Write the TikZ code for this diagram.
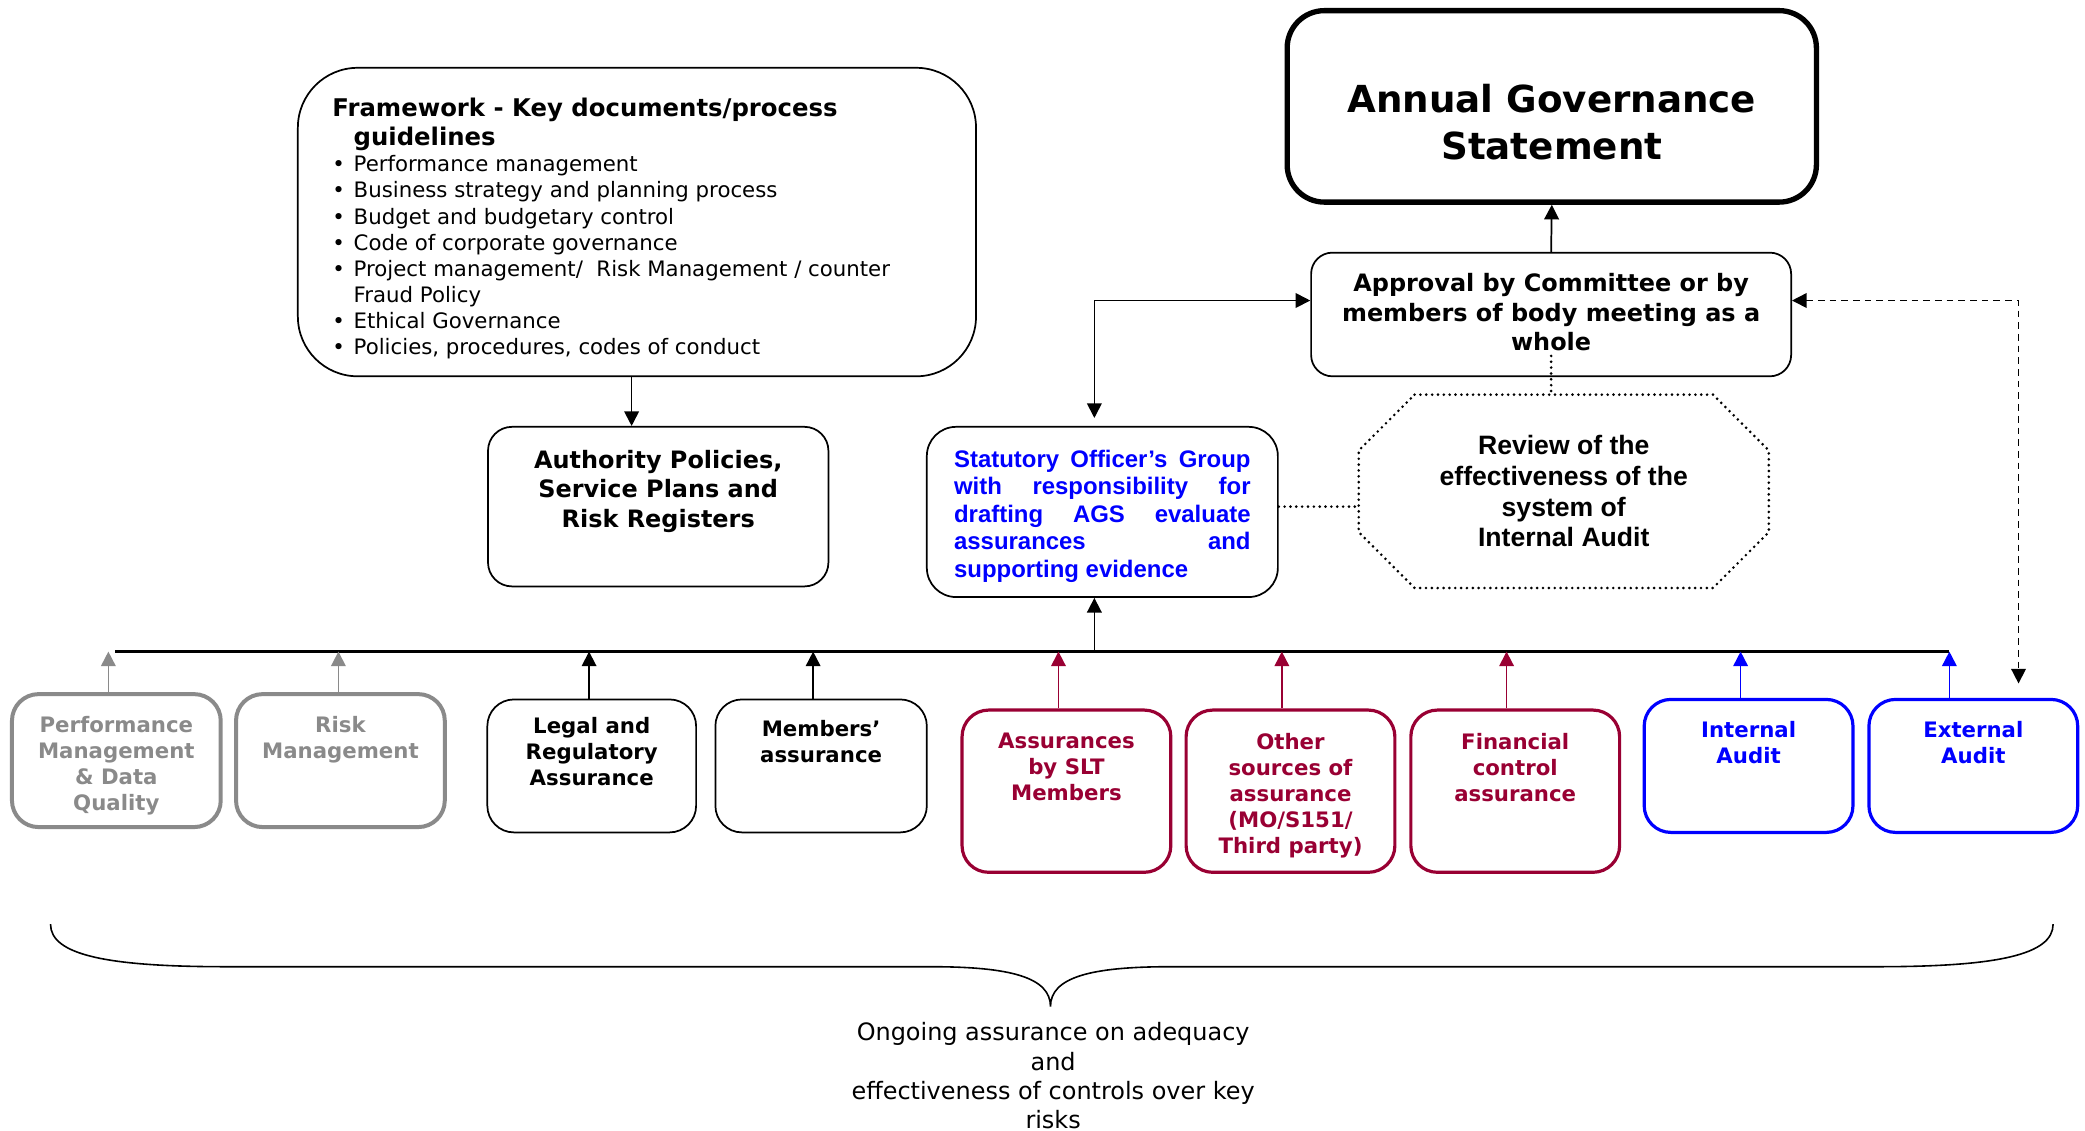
\documentclass[tikz,border=0pt]{standalone}
\usepackage{fontspec}
\setmainfont{DejaVu Sans}
\newfontfamily\arialfont{Liberation Sans}
\usetikzlibrary{arrows.meta}
\definecolor{darkred}{HTML}{990033}
\definecolor{boxgray}{HTML}{8A8A8A}
\newcommand{\boxtext}[4][16.5pt]{\parbox[c][#2][t]{#3}{\centering\vspace*{#1}#4}}
\newcommand{\fwitem}[1]{\hangindent=16pt\hangafter=1\noindent\makebox[16pt][l]{\textbullet}#1\par}

\begin{document}
\begin{tikzpicture}[x=1pt,y=-1pt,
  every node/.style={inner sep=0pt},
  main box/.style={draw,rounded corners=16pt,line width=1.3pt},
  low box/.style={rounded corners=20pt,minimum width=157pt,font=\bfseries\fontsize{16}{19.5}\selectfont},
  gray box/.style={low box,draw=boxgray,text=boxgray,line width=3pt,minimum height=100pt},
  black box/.style={low box,main box,rounded corners=20pt,minimum height=100pt},
  red box/.style={low box,draw=darkred,text=darkred,line width=2.4pt,minimum height=122pt},
  blue box/.style={low box,draw=blue,text=blue,line width=2.4pt,minimum height=100pt},
  arr/.style={-{Triangle[length=11pt,width=11pt]},line width=1.3pt},
  dotline/.style={line width=2.2pt,dash pattern=on 0pt off 4.4pt,line cap=round},
  dasharr/.style={{Triangle[length=11pt,width=11pt]}-{Triangle[length=11pt,width=11pt]},line width=1.2pt,dash pattern=on 5pt off 3.8pt}]
  \useasboundingbox (0,0) rectangle (1568,850);

  \node[main box,rounded corners=45pt,minimum width=510pt,minimum height=232pt] (fw) at (479,167)
    {\boxtext[22.8pt]{232pt}{458pt}{\raggedright
      {\bfseries\fontsize{18.3}{22}\selectfont\hangindent=16pt\hangafter=1\noindent Framework - Key documents/process\newline guidelines\par}
      \fontsize{16}{19.6}\selectfont
      \fwitem{Performance management}
      \fwitem{Business strategy and planning process}
      \fwitem{Budget and budgetary control}
      \fwitem{Code of corporate governance}
      \fwitem{Project management/\ \ Risk Management / counter\newline Fraud Policy}
      \fwitem{Ethical Governance}
      \fwitem{Policies, procedures, codes of conduct}}};
  \node[main box,line width=4pt,rounded corners=28pt,minimum width=398pt,minimum height=144pt,font=\bfseries\fontsize{28}{35}\selectfont] (ags) at (1167,80)
    {\boxtext[55.7pt]{144pt}{390pt}{Annual Governance\\Statement}};
  \node[main box,minimum width=361pt,minimum height=93pt,font=\bfseries\fontsize{18}{22}\selectfont] (appr) at (1166.5,236.5)
    {\boxtext[15.8pt]{93pt}{355pt}{Approval by Committee or by\\members of body meeting as a\\whole}};
  \node[main box,rounded corners=18pt,minimum width=256pt,minimum height=120pt,font=\bfseries\fontsize{18}{22}\selectfont] (auth) at (495,381)
    {\boxtext[17.8pt]{120pt}{250pt}{Authority Policies,\\Service Plans and\\Risk Registers}};
  \node[main box,rounded corners=22pt,minimum width=264pt,minimum height=128pt,text=blue,font=\arialfont\bfseries\fontsize{18}{20.7}\selectfont] (sog) at (829,385)
    {\boxtext[17.4pt]{128pt}{223pt}{%
      \makebox[\linewidth][s]{Statutory Officer’s Group}\\
      \makebox[\linewidth][s]{with responsibility for}\\
      \makebox[\linewidth][s]{drafting AGS evaluate}\\
      \makebox[\linewidth][s]{assurances and}\\
      \makebox[\linewidth][l]{supporting evidence}}};
  \node[minimum width=308pt,minimum height=145pt,align=center,font=\arialfont\bfseries\fontsize{20}{23}\selectfont] (rev) at (1176,369.5)
    {Review of the\\effectiveness of the\\system of\\Internal Audit};
  \draw[dotline] ([xshift=42pt]rev.north west) -- ([xshift=-42pt]rev.north east) -- ([yshift=-42pt]rev.north east)
    -- ([yshift=42pt]rev.south east) -- ([xshift=-42pt]rev.south east) -- ([xshift=42pt]rev.south west)
    -- ([yshift=42pt]rev.south west) -- ([yshift=-42pt]rev.north west) -- cycle;

  \node[gray box] (perf) at (87.5,572) {\boxtext{100pt}{150pt}{Performance\\Management\\\& Data\\Quality}};
  \node[gray box] (risk) at (256,572) {\boxtext{100pt}{150pt}{Risk\\Management}};
  \node[black box] (legal) at (445,576) {\boxtext[13.6pt]{100pt}{150pt}{Legal and\\Regulatory\\Assurance}};
  \node[black box,minimum width=159pt] (memb) at (617.5,576) {\boxtext[15.6pt]{100pt}{150pt}{Members’\\assurance}};
  \node[red box] (slt) at (802,595) {\boxtext[17.6pt]{122pt}{150pt}{Assurances\\by SLT\\Members}};
  \node[red box] (other) at (970.5,595) {\boxtext[17.6pt]{122pt}{150pt}{Other\\sources of\\assurance\\(MO/S151/\\Third party)}};
  \node[red box] (fin) at (1139.5,595) {\boxtext[17.6pt]{122pt}{150pt}{Financial\\control\\assurance}};
  \node[blue box] (ia) at (1315,576) {\boxtext{100pt}{150pt}{Internal\\Audit}};
  \node[blue box] (ea) at (1484,576) {\boxtext{100pt}{150pt}{External\\Audit}};

  \coordinate (busL) at (86.5,490);
  \coordinate (busR) at (1466,490);
  \coordinate (dashend) at (1518,514);
  \draw[line width=2pt] (busL) -- (busR);
  \foreach \b/\dx/\c in {perf/-6/boxgray,risk/-1.5/boxgray,legal/-2/black,memb/-6/black,
      slt/-6/darkred,other/-6.5/darkred,fin/-6.5/darkred,ia/-6/blue,ea/-18/blue}
    \draw[arr,\c] ([xshift=\dx pt]\b.north) -- ([xshift=\dx pt]\b.north |- busL);

  \draw[arr] ([xshift=-4pt]fw.south) -- ([xshift=-4pt]fw.south |- auth.north);
  \draw[arr] (appr.north) -- (ags.south);
  \draw[arr] ([xshift=-6pt]sog.south |- busL) -- ([xshift=-6pt]sog.south);
  \draw[arr,{Triangle[length=11pt,width=11pt]}-{Triangle[length=11pt,width=11pt]},shorten >=6pt] ([yshift=10.5pt]appr.west) -| ([xshift=-6pt]sog.north);
  \draw[dasharr] ([yshift=10.5pt]appr.east) -| (dashend);
  \draw[dotline] ([yshift=16pt]appr.south) -- (appr.south |- rev.north);
  \draw[dotline] ([yshift=4pt]sog.east) -- ([yshift=4pt]sog.east -| rev.west);

  \draw[line width=1.2pt] (38,695) .. controls (38,718) and (80,727) .. (170,727) -- (700,727)
    .. controls (760,727) and (790,735) .. (790,757) .. controls (790,735) and (820,727) .. (880,727)
    -- (1412,727) .. controls (1502,727) and (1544,718) .. (1544,695);
  \node[align=center,font=\fontsize{18}{22}\selectfont] (ongo) at (792,809)
    {Ongoing assurance on adequacy\\and\\effectiveness of controls over key\\risks};
\end{tikzpicture}
\end{document}
